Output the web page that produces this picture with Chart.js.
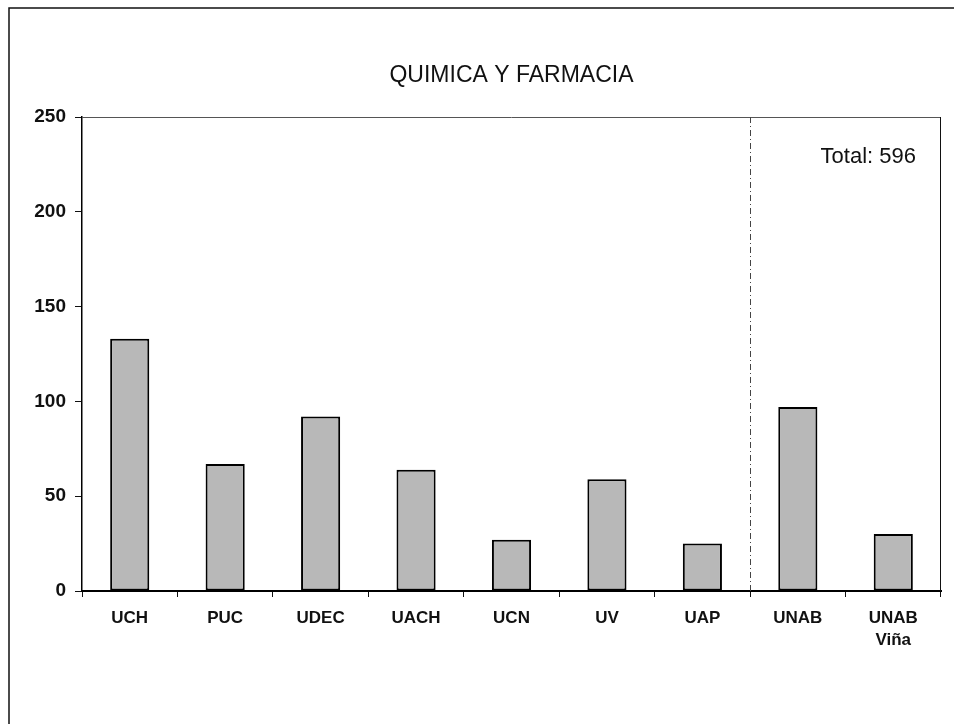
<!DOCTYPE html>
<html>
<head>
<meta charset="utf-8">
<script src="https://cdn.jsdelivr.net/npm/chart.js@4"></script>
<style>
html,body{margin:0;padding:0;background:#fff;}
#wrap{width:954px;height:724px;position:relative;}
canvas{display:block;}
</style>
</head>
<body>
<div id="wrap"><canvas id="c" width="954" height="724"></canvas></div>
<script>
const categories = ['UCH', 'PUC', 'UDEC', 'UACH', 'UCN', 'UV', 'UAP', 'UNAB', ['UNAB', 'Viña']];
const values = [133, 67, 92, 64, 27, 59, 25, 97, 30];
const yTicks = [0, 50, 100, 150, 200, 250];
const titleText = 'QUIMICA Y FARMACIA';
const totalText = 'Total: 596';
const dividerAfterIndex = 6; // dashed line between UAP and UNAB

const decor = {
  id: 'decor',
  beforeDraw(chart) {
    const ctx = chart.ctx;
    ctx.save();
    ctx.fillStyle = '#fff';
    ctx.fillRect(0, 0, chart.width, chart.height);
    ctx.strokeStyle = '#111';
    ctx.lineWidth = 1.5;
    ctx.beginPath();
    ctx.moveTo(9, chart.height);
    ctx.lineTo(9, 8);
    ctx.lineTo(chart.width, 8);
    ctx.stroke();
    ctx.restore();
  },
  afterDatasetsDraw(chart) {
    const ctx = chart.ctx;
    const a = chart.chartArea;
    const xs = chart.scales.x;
    ctx.save();
    ctx.strokeStyle = '#555';
    ctx.lineWidth = 1;
    ctx.beginPath();
    ctx.moveTo(a.left, a.top + 0.5);
    ctx.lineTo(a.right, a.top + 0.5);
    ctx.stroke();
    ctx.strokeStyle = '#111';
    ctx.beginPath();
    ctx.moveTo(a.right - 0.5, a.top);
    ctx.lineTo(a.right - 0.5, a.bottom);
    ctx.stroke();
    const xd = Math.round((xs.getPixelForValue(dividerAfterIndex) + xs.getPixelForValue(dividerAfterIndex + 1)) / 2) + 0.5;
    ctx.strokeStyle = '#444';
    ctx.setLineDash([6, 3, 1, 3]);
    ctx.beginPath();
    ctx.moveTo(xd, a.top);
    ctx.lineTo(xd, a.bottom);
    ctx.stroke();
    ctx.setLineDash([]);
    ctx.fillStyle = '#111';
    ctx.font = '23px "Liberation Sans", Arial, sans-serif';
    ctx.textAlign = 'center';
    ctx.textBaseline = 'middle';
    ctx.fillText(titleText, (a.left + a.right) / 2, 76);
    ctx.font = '22px "Liberation Sans", Arial, sans-serif';
    ctx.textAlign = 'right';
    ctx.fillText(totalText, a.right - 25, 157);
    ctx.restore();
  }
};

new Chart(document.getElementById('c'), {
  type: 'bar',
  data: {
    labels: categories,
    datasets: [{
      data: values,
      backgroundColor: '#b8b8b8',
      borderColor: '#000',
      borderWidth: 2,
      borderSkipped: false,
      categoryPercentage: 1,
      barPercentage: 0.41
    }]
  },
  options: {
    responsive: false,
    animation: false,
    devicePixelRatio: 1,
    layout: { padding: { left: 0, right: 13, top: 117, bottom: 0 } },
    plugins: { legend: { display: false }, title: { display: false }, tooltip: { enabled: false } },
    scales: {
      x: {
        offset: true,
        grid: { offset: true, drawOnChartArea: false, drawTicks: true, tickLength: 6, color: '#111' },
        border: { display: true, color: '#000', width: 2 },
        ticks: {
          color: '#111',
          padding: 11,
          maxRotation: 0,
          autoSkip: false,
          font: { family: '"Liberation Sans", Arial, sans-serif', size: 17, weight: 'bold', lineHeight: 1.25 }
        },
        afterFit(s) { s.height = 133; }
      },
      y: {
        min: 0,
        max: 250,
        afterBuildTicks(s) { s.ticks = yTicks.map(v => ({ value: v })); },
        grid: { drawOnChartArea: false, drawTicks: true, tickLength: 7, color: '#111' },
        border: { display: true, color: '#000', width: 1.5 },
        ticks: {
          color: '#111',
          padding: 9,
          font: { family: '"Liberation Sans", Arial, sans-serif', size: 19, weight: 'bold' }
        },
        afterFit(s) { s.width = 82; }
      }
    }
  },
  plugins: [decor]
});
</script>
</body>
</html>
